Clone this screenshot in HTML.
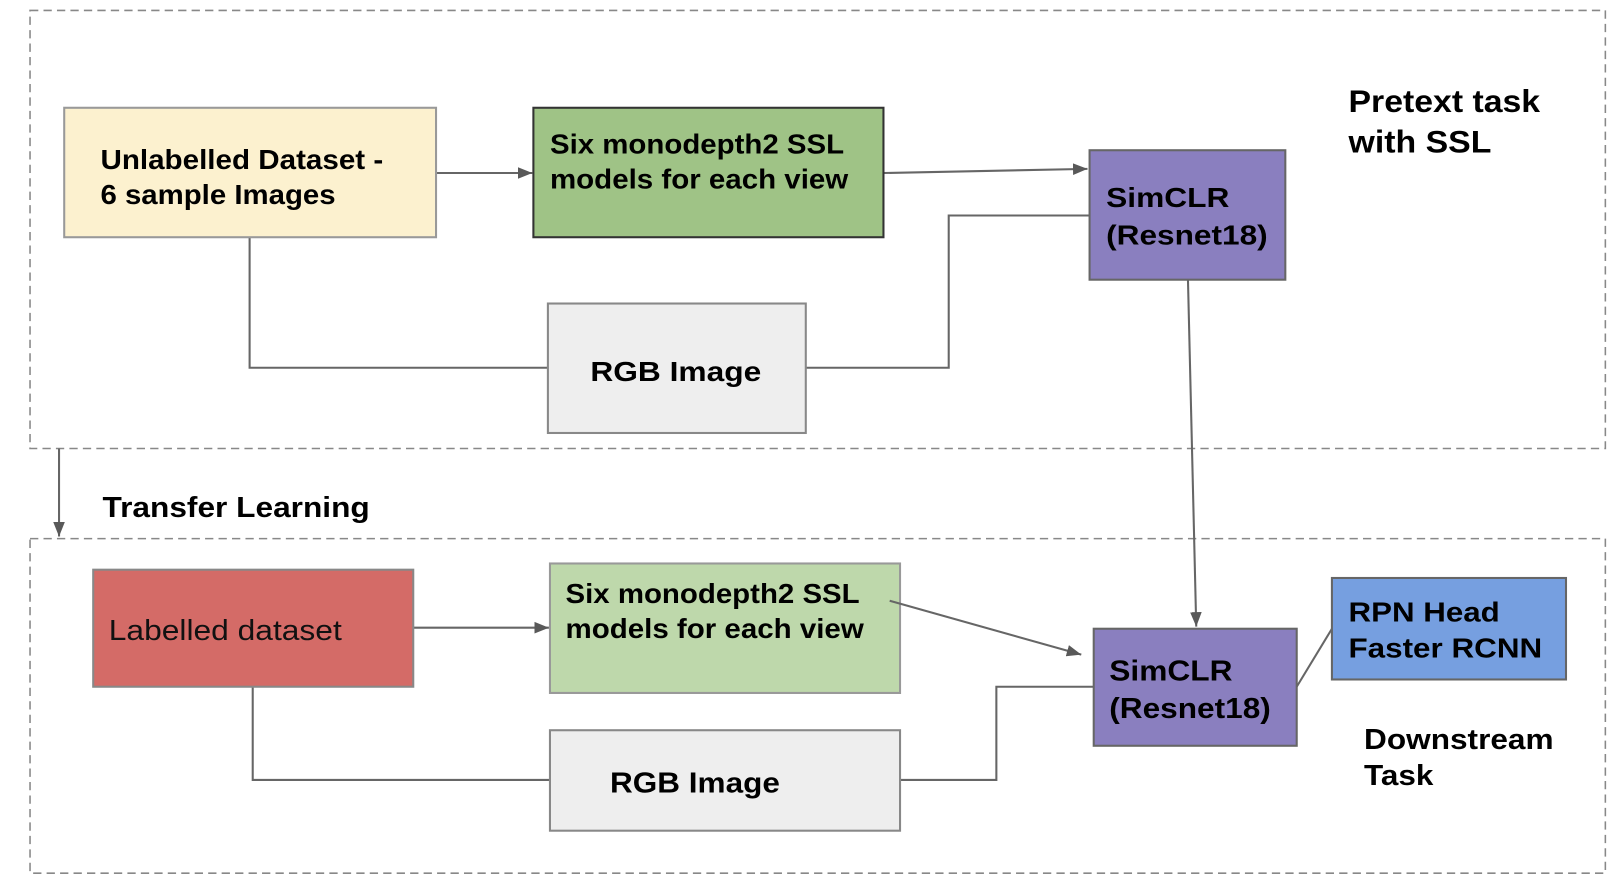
<!DOCTYPE html>
<html><head><meta charset="utf-8"><style>html,body{margin:0;padding:0;background:#fff}svg{display:block}</style></head>
<body>
<svg width="1624" height="896" viewBox="0 0 1568 865" xmlns="http://www.w3.org/2000/svg" font-family="Liberation Sans, Arial, sans-serif">
<defs>
<marker id="b" viewBox="0 0 10 10" refX="10" refY="5" markerWidth="14" markerHeight="14" orient="auto" markerUnits="userSpaceOnUse"><path d="M0,1L10,5L0,9z" fill="#595959"/></marker>
</defs>
<rect x="29" y="10" width="1521" height="423" fill="none" stroke="#888" stroke-width="1.5" stroke-dasharray="8,5"/>
<rect x="29" y="520" width="1521" height="323" fill="none" stroke="#888" stroke-width="1.5" stroke-dasharray="8,5"/>
<g fill="none" stroke="#666" stroke-width="2">
<line x1="421" y1="167" x2="514" y2="167" marker-end="url(#b)"/>
<line x1="853" y1="167" x2="1050" y2="163" marker-end="url(#b)"/>
<polyline points="1052,208 916,208 916,355 778,355"/>
<polyline points="241,229 241,355 529,355"/>
<line x1="1147" y1="270" x2="1155" y2="605" marker-end="url(#b)"/>
<line x1="57" y1="433" x2="57" y2="518" marker-end="url(#b)"/>
<line x1="399" y1="606" x2="530" y2="606" marker-end="url(#b)"/>
<polyline points="1056,663 962,663 962,753 869,753"/>
<polyline points="244,663 244,753 531,753"/>
<line x1="1252" y1="663" x2="1286" y2="607"/>
</g>
<g stroke-width="2">
<rect x="62" y="104" width="359" height="125" fill="#fcf1cf" stroke="#999"/>
<rect x="515" y="104" width="338" height="125" fill="#9fc386" stroke="#333"/>
<rect x="1052" y="145" width="189" height="125" fill="#8a7fbf" stroke="#666"/>
<rect x="529" y="293" width="249" height="125" fill="#eeeeee" stroke="#888"/>
<rect x="90" y="550" width="309" height="113" fill="#d46b67" stroke="#888"/>
<rect x="531" y="544" width="338" height="125" fill="#bed8ab" stroke="#999"/>
<rect x="1056" y="607" width="196" height="113" fill="#8a7fbf" stroke="#666"/>
<rect x="1286" y="558" width="226" height="98" fill="#769fe0" stroke="#666"/>
<rect x="531" y="705" width="338" height="97" fill="#eeeeee" stroke="#888"/>
</g>
<line x1="859" y1="580" x2="1044" y2="632" stroke="#666" stroke-width="2" marker-end="url(#b)"/>
<g font-size="27" font-weight="bold" fill="#000">
<text x="97" y="163" textLength="273" lengthAdjust="spacingAndGlyphs">Unlabelled Dataset -</text>
<text x="97" y="197" textLength="227" lengthAdjust="spacingAndGlyphs">6 sample Images</text>
<text x="531" y="148" textLength="284" lengthAdjust="spacingAndGlyphs">Six monodepth2 SSL</text>
<text x="531" y="182" textLength="288" lengthAdjust="spacingAndGlyphs">models for each view</text>
<text x="1068" y="200" textLength="119" lengthAdjust="spacingAndGlyphs">SimCLR</text>
<text x="1068" y="236" textLength="156" lengthAdjust="spacingAndGlyphs">(Resnet18)</text>
<text x="570" y="368" textLength="165" lengthAdjust="spacingAndGlyphs">RGB Image</text>
<text x="1302" y="108" font-size="30" textLength="185" lengthAdjust="spacingAndGlyphs">Pretext task</text>
<text x="1302" y="147" font-size="30" textLength="138" lengthAdjust="spacingAndGlyphs">with SSL</text>
<text x="99" y="499" font-size="28" textLength="258" lengthAdjust="spacingAndGlyphs">Transfer Learning</text>
<text x="546" y="582" textLength="284" lengthAdjust="spacingAndGlyphs">Six monodepth2 SSL</text>
<text x="546" y="616" textLength="288" lengthAdjust="spacingAndGlyphs">models for each view</text>
<text x="1071" y="657" font-size="28" textLength="119" lengthAdjust="spacingAndGlyphs">SimCLR</text>
<text x="1071" y="693" font-size="28" textLength="156" lengthAdjust="spacingAndGlyphs">(Resnet18)</text>
<text x="1302" y="600" textLength="146" lengthAdjust="spacingAndGlyphs">RPN Head</text>
<text x="1302" y="635" textLength="187" lengthAdjust="spacingAndGlyphs">Faster RCNN</text>
<text x="1317" y="723" font-size="28" textLength="183" lengthAdjust="spacingAndGlyphs">Downstream</text>
<text x="1317" y="758" font-size="28" textLength="67" lengthAdjust="spacingAndGlyphs">Task</text>
<text x="589" y="765" font-size="28" textLength="164" lengthAdjust="spacingAndGlyphs">RGB Image</text>
</g>
<text x="105" y="618" font-size="28" fill="#111" textLength="225" lengthAdjust="spacingAndGlyphs">Labelled dataset</text>
</svg>
</body></html>
